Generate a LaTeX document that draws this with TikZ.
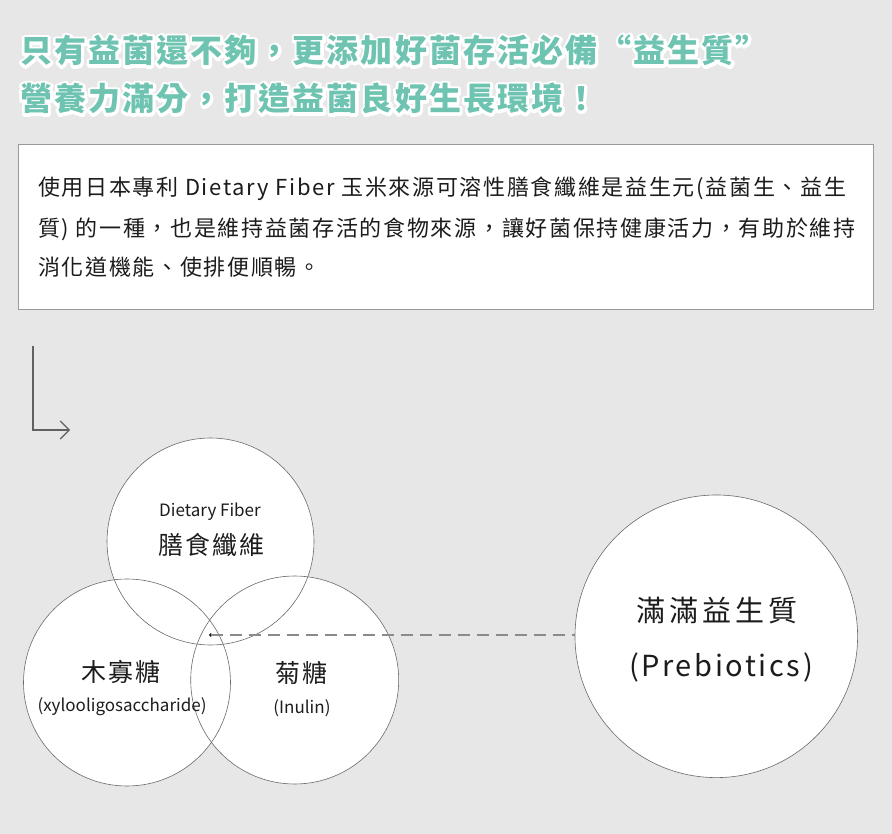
\documentclass[tikz,border=0pt]{standalone}
\usepackage{fontspec}
\setmainfont{Noto Sans CJK TC}
\usetikzlibrary{arrows.meta}
\pgfdeclarelayer{bg}
\pgfsetlayers{bg,main}
\definecolor{pagegray}{HTML}{E6E7E6}
\definecolor{mint}{HTML}{6EC3B1}
\definecolor{ringgray}{HTML}{6A6A6A}
\definecolor{dashgray}{HTML}{8A8A8A}
\definecolor{inktext}{HTML}{1C1C1C}
% white stroke behind the heading glyphs
\newcommand\haloed[1]{\leavevmode\rlap{\special{pdf:literal direct 1 Tr 5.6 w 1 j 1 1 1 RG}#1\special{pdf:literal direct 0 Tr}}#1}

\tikzset{
    headline/.style={anchor=base west, inner sep=0pt, mint, font={\fontsize{32}{36}\selectfont\bfseries\addfontfeature{LetterSpace=6.5}}},
    bodyline/.style={anchor=base west, inner sep=0pt, inktext, font={\fontsize{22}{26}\selectfont\addfontfeature{LetterSpace=7.6}}},
    ring/.style={circle, draw=ringgray, line width=0.6pt, inner sep=0pt, outer sep=0pt},
    ringcjk/.style={inner sep=0pt, inktext, font={\fontsize{25}{30}\selectfont\addfontfeature{LetterSpace=8}}},
    ringlatin/.style={inner sep=0pt, inktext, font={\fontsize{17}{20}\selectfont}},
    bigcjk/.style={inner sep=0pt, inktext, font={\fontsize{29}{34}\selectfont\addfontfeature{LetterSpace=14}}},
    biglatin/.style={inner sep=0pt, inktext, font={\fontsize{29}{34}\selectfont\addfontfeature{LetterSpace=9}}}
}

\begin{document}
\begin{tikzpicture}[x=1pt, y=-1pt]
    \useasboundingbox (0,0) rectangle (892,834);
    \begin{pgfonlayer}{bg}
        \fill[pagegray] (0,0) rectangle (892,834);
    \end{pgfonlayer}

    % heading
    \node[headline] (head-1) at (20,63) {\haloed{只有益菌還不夠，更添加好菌存活必備“益生質”}};
    \node[headline] (head-2) at (20,111) {\haloed{營養力滿分，打造益菌良好生長環境！}};

    % intro box
    \draw[fill=white, draw=black!40, line width=0.8pt] (18,144) rectangle (873,309);
    \foreach \n/\yy/\txt in {1/196/{使用日本專利 Dietary Fiber 玉米來源可溶性膳食纖維是益生元(益菌生、益生}, 2/237/{質) 的一種，也是維持益菌存活的食物來源，讓好菌保持健康活力，有助於維持}, 3/276/{消化道機能、使排便順暢。}}
        \node[bodyline] (intro-\n) at (38,\yy) {\txt};

    % turn arrow
    \coordinate (turn-top) at (33,346);
    \coordinate (turn-tip) at (70,430);
    \draw[black!62, line width=1.1pt, -{Straight Barb[length=9pt, width=18pt, line width=1.1pt]}] (turn-top) |- (turn-tip);

    % venn circles
    \node[ring, minimum size=207pt] (fiber) at (210.5,541.5) {};
    \node[ring, minimum size=207pt] (xylo) at (127,682.5) {};
    \node[ring, minimum size=208pt] (inulin) at (294.7,680) {};
    \node[ring, minimum size=282.6pt] (prebio) at (716.3,636.3) {};
    \begin{pgfonlayer}{bg}
        \foreach \c/\r in {fiber/103.5, xylo/103.5, inulin/104, prebio/141.3}
            \fill[white] (\c.center) circle (\r);
    \end{pgfonlayer}

    \node[ringlatin] (fiber-en) at (210,512) {Dietary Fiber};
    \node[ringcjk] (fiber-zh) at (211,545) {膳食纖維};
    \node[ringcjk] (xylo-zh) at (121,672) {木寡糖};
    \node[ringlatin] (xylo-en) at (122,707) {(xylooligosaccharide)};
    \node[ringcjk] (inulin-zh) at (301,673) {菊糖};
    \node[ringlatin] (inulin-en) at (302,708) {(Inulin)};
    \node[bigcjk] (prebio-zh) at (717,611) {滿滿益生質};
    \node[biglatin] (prebio-en) at (721,667) {(Prebiotics)};

    % link to prebiotics
    \coordinate (core) at (210.7,635);
    \fill[inktext] (core) circle (1.9);
    \draw[dashgray, line width=1.1pt, dash pattern=on 12pt off 7pt] (core) -- (core -| prebio.west);
\end{tikzpicture}
\end{document}
